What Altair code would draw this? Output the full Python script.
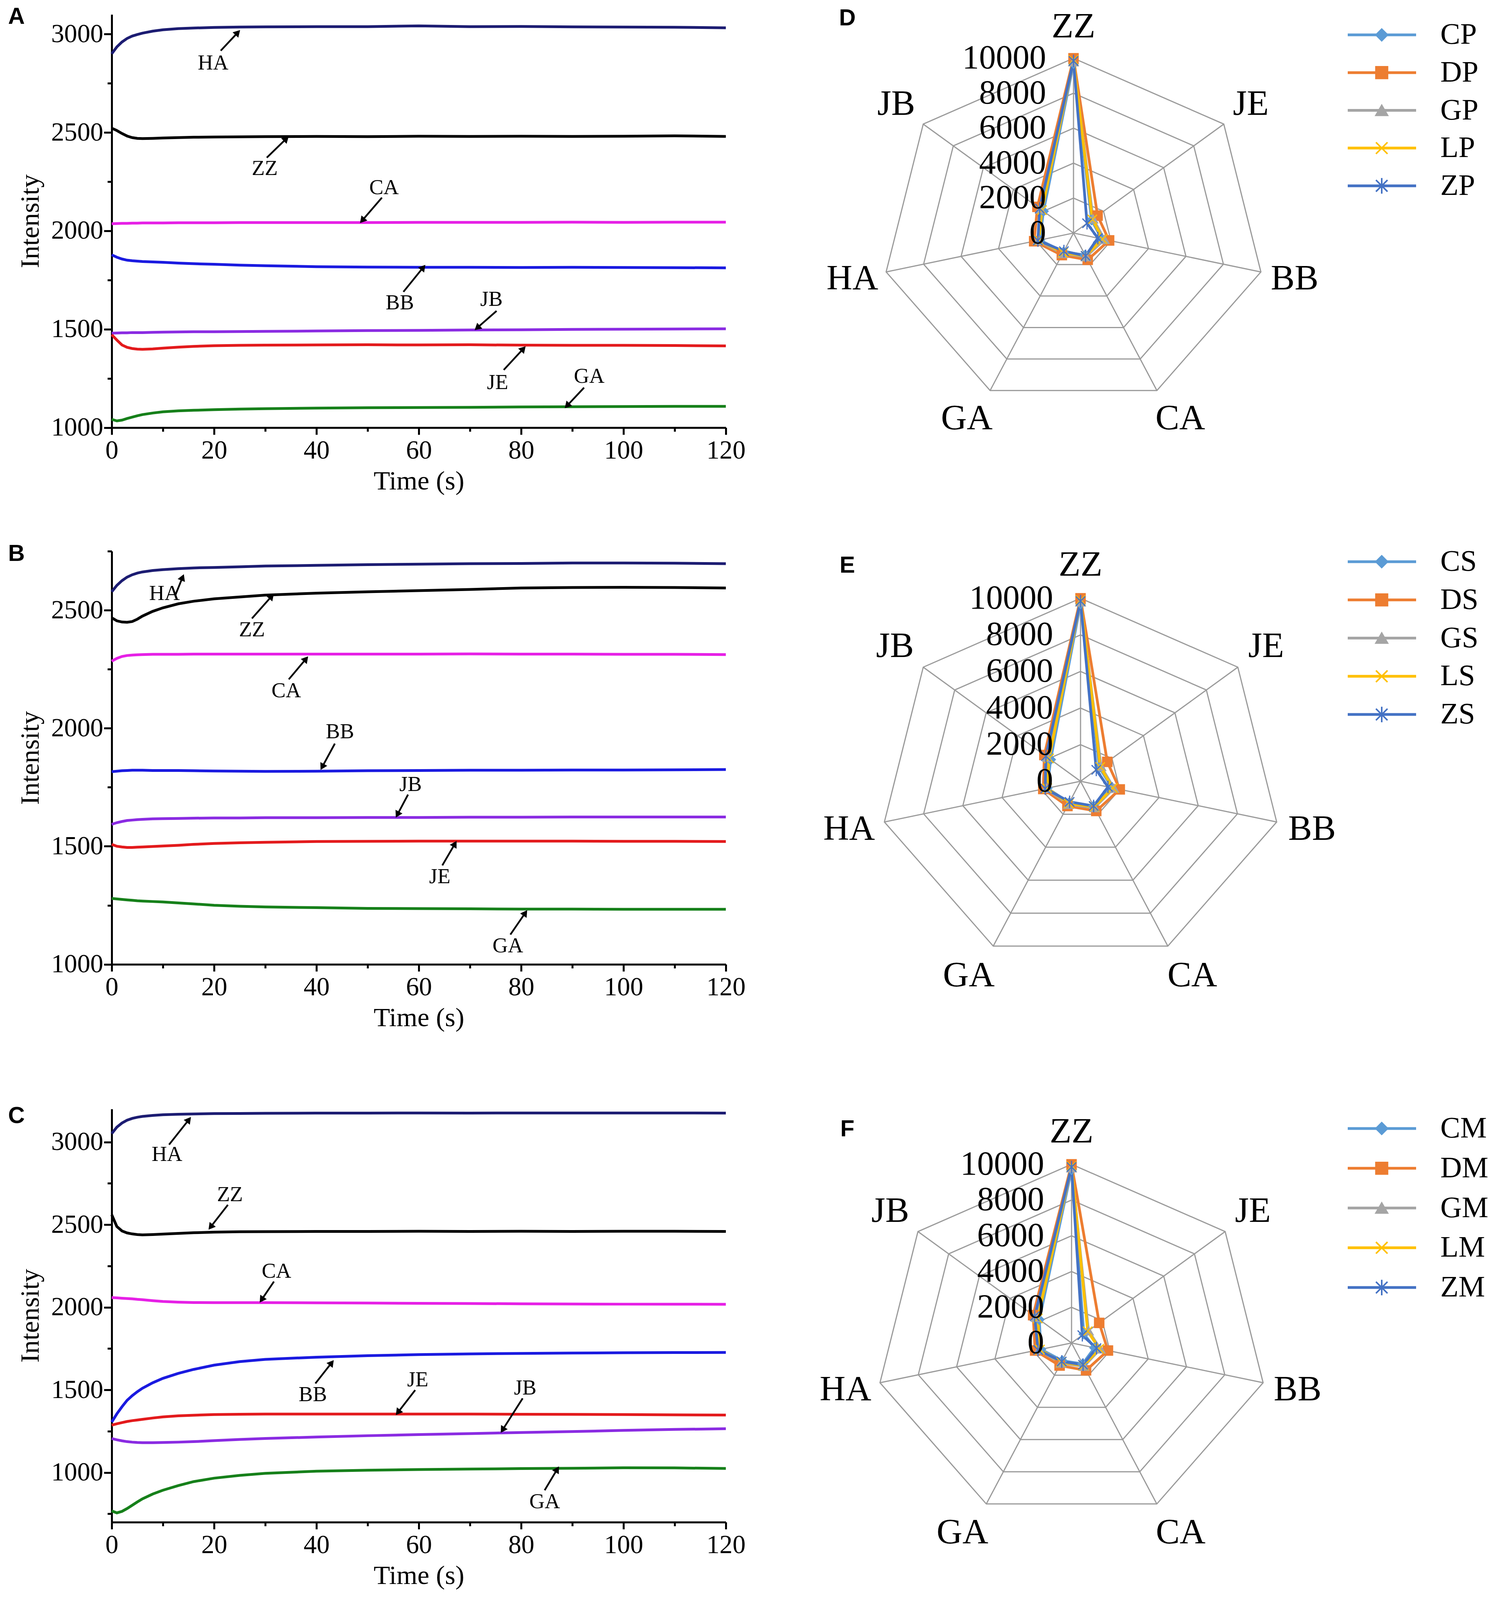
import math
import altair as alt
import pandas as pd

SERIF = "Liberation Serif"
SANS = "Liberation Sans"
SY = 0.9094          # vertical layout factor (visible page height / reference height)
SF = 0.954           # font / marker factor


def py(v):
    return v * SY


def pf(v):
    return v * SF


# ---------------- time-series panels (A, B, C) ----------------
T = [0, 1, 2, 3, 4, 5, 6, 8, 10, 13, 16, 20, 25, 30, 40, 50, 60, 70, 80, 90, 100, 110, 120]
GASES = ["HA", "ZZ", "CA", "BB", "JB", "JE", "GA"]
GAS_COLORS = ["#1c1c72", "#000000", "#e620e6", "#1a1ae0", "#8a2be2", "#e31a1c", "#16801a"]

A_HA = [2900, 2935, 2960, 2978, 2990, 2998, 3005, 3015, 3022, 3028, 3031, 3034, 3036, 3037, 3038, 3038, 3042, 3038, 3039, 3037, 3036, 3035, 3032]
A_ZZ = [2522, 2510, 2495, 2482, 2474, 2470, 2469, 2470, 2472, 2474, 2476, 2477, 2478, 2479, 2480, 2479, 2481, 2480, 2481, 2480, 2481, 2483, 2480]
A_CA = [2036, 2037, 2038, 2038, 2039, 2039, 2040, 2040, 2040, 2041, 2041, 2041, 2042, 2042, 2042, 2042, 2043, 2043, 2043, 2044, 2043, 2044, 2044]
A_BB = [1878, 1866, 1857, 1851, 1848, 1846, 1844, 1842, 1840, 1836, 1833, 1830, 1826, 1823, 1818, 1816, 1815, 1815, 1814, 1815, 1814, 1813, 1812]
A_JB = [1480, 1481, 1482, 1482, 1483, 1483, 1483, 1484, 1485, 1486, 1487, 1487, 1488, 1489, 1491, 1493, 1494, 1496, 1497, 1499, 1500, 1501, 1502]
A_JE = [1472, 1445, 1420, 1408, 1402, 1399, 1398, 1400, 1404, 1409, 1413, 1416, 1418, 1419, 1420, 1421, 1420, 1421, 1419, 1418, 1418, 1417, 1415]
A_GA = [1042, 1034, 1038, 1046, 1053, 1060, 1066, 1074, 1080, 1085, 1088, 1091, 1094, 1096, 1099, 1101, 1102, 1103, 1105, 1106, 1107, 1108, 1108]

B_HA = [2578, 2605, 2625, 2640, 2650, 2657, 2662, 2668, 2672, 2676, 2679, 2681, 2684, 2687, 2690, 2693, 2695, 2697, 2698, 2700, 2700, 2699, 2697]
B_ZZ = [2468, 2455, 2450, 2449, 2452, 2462, 2475, 2495, 2510, 2527, 2538, 2548, 2556, 2564, 2572, 2578, 2583, 2588, 2594, 2596, 2597, 2596, 2594]
B_CA = [2284, 2296, 2304, 2308, 2310, 2311, 2312, 2313, 2313, 2313, 2314, 2314, 2314, 2314, 2314, 2314, 2314, 2315, 2314, 2314, 2313, 2313, 2312]
B_BB = [1816, 1818, 1820, 1821, 1822, 1822, 1822, 1821, 1821, 1821, 1820, 1819, 1818, 1817, 1818, 1820, 1821, 1822, 1822, 1823, 1823, 1824, 1825]
B_JB = [1593, 1600, 1605, 1609, 1611, 1613, 1614, 1616, 1617, 1618, 1619, 1620, 1620, 1621, 1621, 1622, 1622, 1623, 1623, 1624, 1624, 1624, 1624]
B_JE = [1508, 1500, 1497, 1495, 1495, 1496, 1497, 1499, 1501, 1504, 1508, 1512, 1515, 1517, 1520, 1521, 1522, 1522, 1522, 1522, 1521, 1521, 1520]
B_GA = [1279, 1277, 1275, 1273, 1271, 1269, 1268, 1266, 1264, 1260, 1256, 1250, 1246, 1243, 1240, 1237, 1236, 1235, 1234, 1234, 1233, 1233, 1233]

C_HA = [3051, 3090, 3115, 3132, 3143, 3150, 3155, 3161, 3165, 3168, 3170, 3172, 3173, 3174, 3175, 3175, 3176, 3175, 3176, 3176, 3176, 3176, 3175]
C_ZZ = [2560, 2489, 2462, 2450, 2444, 2440, 2438, 2440, 2443, 2447, 2451, 2455, 2457, 2458, 2459, 2459, 2460, 2459, 2460, 2459, 2460, 2460, 2459]
C_CA = [2059, 2057, 2055, 2053, 2051, 2048, 2046, 2040, 2035, 2031, 2029, 2028, 2028, 2028, 2027, 2026, 2024, 2023, 2021, 2020, 2019, 2019, 2018]
C_BB = [1305, 1355, 1398, 1437, 1465, 1489, 1510, 1543, 1570, 1600, 1624, 1650, 1671, 1685, 1698, 1707, 1714, 1718, 1721, 1723, 1725, 1726, 1727]
C_JB = [1206, 1198, 1192, 1187, 1184, 1182, 1181, 1181, 1182, 1184, 1187, 1193, 1200, 1206, 1215, 1223, 1230, 1236, 1242, 1248, 1255, 1261, 1265]
C_JE = [1287, 1295, 1302, 1309, 1314, 1318, 1322, 1330, 1337, 1343, 1347, 1351, 1353, 1354, 1354, 1354, 1354, 1354, 1353, 1352, 1351, 1349, 1348]
C_GA = [768, 756, 765, 782, 802, 822, 841, 870, 893, 921, 945, 966, 983, 995, 1008, 1014, 1018, 1021, 1024, 1026, 1029, 1028, 1025]

# annotations: label, label position, arrow tail, arrow tip (data units)
A_ANN_LABEL = ["HA", "ZZ", "CA", "BB", "JB", "JE", "GA"]
A_ANN_LX = [19.8, 29.9, 53.2, 56.3, 74.2, 75.4, 93.3]
A_ANN_LY = [2851, 2315, 2218, 1633, 1650, 1228, 1260]
A_ANN_X0 = [21.3, 30.3, 52.8, 57.0, 75.2, 76.6, 92.3]
A_ANN_Y0 = [2916, 2372, 2169, 1690, 1593, 1293, 1203]
A_ANN_X1 = [25.1, 34.6, 48.5, 61.3, 70.9, 80.9, 88.5]
A_ANN_Y1 = [3021, 2481, 2039, 1828, 1495, 1414, 1098]

B_ANN_LABEL = ["HA", "ZZ", "CA", "BB", "JB", "JE", "GA"]
B_ANN_LX = [10.3, 27.4, 34.1, 44.6, 58.4, 64.1, 77.4]
B_ANN_LY = [2570, 2416, 2158, 1984, 1760, 1370, 1077]
B_ANN_X0 = [12.4, 27.4, 34.6, 43.6, 57.9, 64.6, 77.9]
B_ANN_Y0 = [2562, 2465, 2207, 1935, 1719, 1419, 1126]
B_ANN_X1 = [14.1, 31.7, 38.4, 40.8, 55.5, 67.4, 81.2]
B_ANN_Y1 = [2653, 2570, 2305, 1823, 1621, 1523, 1230]

C_ANN_LABEL = ["HA", "ZZ", "CA", "BB", "JE", "JB", "GA"]
C_ANN_LX = [10.8, 23.1, 32.2, 39.3, 59.8, 80.8, 84.6]
C_ANN_LY = [2923, 2681, 2216, 1469, 1560, 1509, 822]
C_ANN_X0 = [11.2, 22.7, 31.7, 39.8, 59.3, 80.3, 84.6]
C_ANN_Y0 = [2984, 2620, 2156, 1539, 1499, 1449, 893]
C_ANN_X1 = [15.5, 18.9, 28.9, 43.4, 55.5, 76.0, 87.4]
C_ANN_Y1 = [3152, 2469, 2028, 1681, 1347, 1240, 1038]

# ---------------- radar panels (D, E, F) ----------------
SENSORS = ["ZZ", "JE", "BB", "CA", "GA", "HA", "JB"]
RINGS = [0, 2000, 4000, 6000, 8000, 10000]
RADAR_COLORS = ["#5B9BD5", "#ED7D31", "#A5A5A5", "#FFC000", "#4472C4"]

D_NAMES = ["CP", "DP", "GP", "LP", "ZP"]
D_VALUES = [
    [9700, 1200, 1500, 1400, 1200, 1800, 2000],
    [10000, 1600, 1900, 1700, 1400, 2100, 2400],
    [9800, 1300, 1650, 1500, 1300, 1900, 2200],
    [9900, 1250, 1550, 1450, 1250, 1850, 2100],
    [9850, 900, 1300, 1450, 1150, 1900, 2250],
]
E_NAMES = ["CS", "DS", "GS", "LS", "ZS"]
E_VALUES = [
    [9700, 1200, 1600, 1500, 1300, 1700, 1900],
    [10000, 1700, 2000, 1800, 1500, 1900, 2300],
    [9800, 1300, 1700, 1600, 1400, 1750, 2100],
    [9900, 1250, 1650, 1550, 1350, 1700, 2000],
    [9850, 1000, 1400, 1500, 1250, 1800, 2200],
]
F_NAMES = ["CM", "DM", "GM", "LM", "ZM"]
F_VALUES = [
    [9700, 800, 1200, 1300, 1100, 1600, 2100],
    [10000, 1800, 1900, 1700, 1400, 1900, 2500],
    [9800, 1100, 1500, 1450, 1250, 1700, 2300],
    [9900, 1050, 1450, 1400, 1200, 1650, 2200],
    [9850, 700, 1300, 1350, 1150, 1750, 2400],
]

SHAPES = ["diamond", "square", "triangle-up",
          "M-1,-1L1,1M-1,1L1,-1",
          "M-1,-1L1,1M-1,1L1,-1M0,-1.35L0,1.35"]
SERIES_WIDTHS = [7, 7, 7, 7, 12]

W_LINE = 1572
H_LINE = py(1163)
INDEP = dict(color="independent", stroke="independent", shape="independent",
             strokeWidth="independent", x="independent", y="independent")


def line_panel(letter, letter_dy, series, ydom, ytick_start, ann):
    rows = []
    for g, vals in zip(GASES, series):
        for t, v in zip(T, vals):
            rows.append({"gas": g, "t": t, "v": v})
    df = pd.DataFrame(rows)

    labels, lx, ly, x0, y0, x1, y1 = ann
    sx = W_LINE / 120.0
    sy = H_LINE / float(ydom[1] - ydom[0])
    arows = []
    for i in range(len(labels)):
        dxp = (x1[i] - x0[i]) * sx
        dyp = (y1[i] - y0[i]) * sy
        L = math.hypot(dxp, dyp)
        ang = math.degrees(math.atan2(dxp, dyp)) % 360
        back = 9.0
        hx = x1[i] - dxp / L * back / sx
        hy = y1[i] - dyp / L * back / sy
        arows.append({"label": labels[i], "lx": lx[i], "ly": ly[i], "x0": x0[i], "y0": y0[i],
                      "hx": hx, "hy": hy, "ang": ang})
    adf = pd.DataFrame(arows)

    xs = alt.Scale(domain=[0, 120], nice=False, zero=False)
    ys = alt.Scale(domain=ydom, nice=False, zero=False)
    xaxis = alt.Axis(values=list(range(0, 121, 10)),
                     labelExpr="datum.value % 20 === 0 ? datum.label : ''",
                     tickSize={"condition": {"test": "datum.value % 20 === 0", "value": 18}, "value": 10},
                     labelPadding=8, titlePadding=11, labelFlush=False, labelOverlap=False)
    yaxis = alt.Axis(values=list(range(ytick_start, ydom[1] + 1, 250)), format="d",
                     labelExpr="datum.value % 500 === 0 ? datum.label : ''",
                     tickSize={"condition": {"test": "datum.value % 500 === 0", "value": 20}, "value": 11},
                     labelPadding=2, titlePadding=18, labelFlush=False, labelOverlap=False)
    X = lambda f: alt.X(f, type="quantitative", scale=xs, axis=xaxis, title="Time (s)")
    Y = lambda f: alt.Y(f, type="quantitative", scale=ys, axis=yaxis, title="Intensity")

    lines = alt.Chart(df).mark_line(strokeWidth=7).encode(
        x=X("t"), y=Y("v"),
        color=alt.Color("gas:N", scale=alt.Scale(domain=GASES, range=GAS_COLORS), legend=None),
    )
    rules = alt.Chart(adf).mark_rule(strokeWidth=4.5, color="black").encode(
        x=X("x0"), y=Y("y0"), x2="hx:Q", y2="hy:Q")
    heads = alt.Chart(adf).mark_point(shape="triangle-up", filled=True, size=400,
                                      color="black", opacity=1).encode(
        x=X("hx"), y=Y("hy"), angle=alt.Angle("ang:Q", scale=None))
    texts = alt.Chart(adf).mark_text(font=SERIF, fontSize=pf(57), color="black",
                                     align="center", baseline="middle").encode(
        x=X("lx"), y=Y("ly"), text="label:N")
    let = alt.Chart(pd.DataFrame({"panel": [letter]})).mark_text(
        font=SANS, fontWeight="bold", fontSize=pf(62), color="black", align="center", baseline="middle"
    ).encode(x=alt.value(-244), y=alt.value(letter_dy), text="panel:N")
    return alt.layer(lines, rules, heads, texts, let).properties(width=W_LINE, height=H_LINE)


def radar_panel(letter, letter_xy, names, values, xdom, ydom, W, H):
    n = len(SENSORS)
    rmax = float(RINGS[-1])
    rows = []
    for s, vals in zip(names, values):
        for i in range(n + 1):
            rows.append({"series": s, "sensor": SENSORS[i % n], "idx": i, "value": vals[i % n]})
    pts = pd.DataFrame(rows)
    xs = alt.Scale(domain=xdom, nice=False, zero=False)
    ys = alt.Scale(domain=ydom, nice=False, zero=False)
    X = lambda f: alt.X(f, type="quantitative", scale=xs, axis=None)
    Y = lambda f: alt.Y(f, type="quantitative", scale=ys, axis=None)
    th = "datum.idx*2*PI/%d" % n

    ring_df = pd.DataFrame([{"ring": r, "idx": i} for r in RINGS[1:] for i in range(n + 1)])
    rings = alt.Chart(ring_df).transform_calculate(
        px="datum.ring/%f*sin(%s)" % (rmax, th), py="datum.ring/%f*cos(%s)" % (rmax, th)
    ).mark_line(color="#9a9a9a", strokeWidth=3).encode(
        x=X("px"), y=Y("py"), detail="ring:N", order="idx:Q")

    spoke_df = pd.DataFrame({"idx": list(range(n)), "ring": [RINGS[-1]] * n})
    spokes = alt.Chart(spoke_df).transform_calculate(
        px="datum.ring/%f*sin(%s)" % (rmax, th), py="datum.ring/%f*cos(%s)" % (rmax, th),
        cx="0", cy="0"
    ).mark_rule(color="#9a9a9a", strokeWidth=3).encode(
        x=X("cx"), y=Y("cy"), x2="px:Q", y2="py:Q")

    cat_df = pd.DataFrame({"sensor": SENSORS, "idx": list(range(n))})
    cats = alt.Chart(cat_df).transform_calculate(
        px="1.18*sin(%s) + (cos(%s) < -0.5 ? 0.1*sin(%s) : 0)" % (th, th, th),
        py="1.18*cos(%s)" % th
    ).mark_text(font=SERIF, fontSize=pf(96), color="black", align="center", baseline="middle").encode(
        x=X("px"), y=Y("py"), text="sensor:N")

    rl_df = pd.DataFrame({"ring": RINGS, "txt": [str(r) for r in RINGS]})
    rlabels = alt.Chart(rl_df).transform_calculate(
        px="0", py="datum.ring/%f" % rmax
    ).mark_text(font=SERIF, fontSize=pf(90), color="black", align="right", baseline="middle",
                dx=-70).encode(x=X("px"), y=Y("py"), text="txt:N")

    col = alt.Color("series:N", scale=alt.Scale(domain=names, range=RADAR_COLORS), legend=None)
    stk = alt.Stroke("series:N", scale=alt.Scale(domain=names, range=RADAR_COLORS), legend=None)
    base = alt.Chart(pts).transform_calculate(
        px="datum.value/%f*sin(%s)" % (rmax, th), py="datum.value/%f*cos(%s)" % (rmax, th))
    slines = base.mark_line().encode(
        x=X("px"), y=Y("py"), color=col, order="idx:Q",
        strokeWidth=alt.StrokeWidth("series:N", scale=alt.Scale(domain=names, range=SERIES_WIDTHS),
                                    legend=None))
    spoints = base.transform_filter("datum.idx < %d" % n).mark_point(
        filled=True, size=pf(25) ** 2, strokeWidth=3, opacity=1).encode(
        x=X("px"), y=Y("py"), color=col, stroke=stk,
        shape=alt.Shape("series:N", scale=alt.Scale(domain=names, range=SHAPES), legend=None))

    let = alt.Chart(pd.DataFrame({"panel": [letter]})).mark_text(
        font=SANS, fontWeight="bold", fontSize=pf(62), color="black", align="center", baseline="middle"
    ).encode(x=alt.value(letter_xy[0]), y=alt.value(letter_xy[1]), text="panel:N")

    return alt.layer(rings, spokes, slines, spoints, cats, rlabels, let).properties(
        width=W, height=H)


def legend_panel(names, yrange, H):
    df = pd.DataFrame({"series": names})
    y = alt.Y("series:N", scale=alt.Scale(type="point", domain=names, range=yrange), axis=None)
    col = alt.Color("series:N", scale=alt.Scale(domain=names, range=RADAR_COLORS), legend=None)
    stk = alt.Stroke("series:N", scale=alt.Scale(domain=names, range=RADAR_COLORS), legend=None)
    line = alt.Chart(df).mark_rule(strokeWidth=7).encode(
        y=y, x=alt.value(25), x2=alt.value(200), color=col)
    pt = alt.Chart(df).mark_point(filled=True, size=pf(31) ** 2, strokeWidth=4, opacity=1).encode(
        y=y, x=alt.value(112), color=col, stroke=stk,
        shape=alt.Shape("series:N", scale=alt.Scale(domain=names, range=SHAPES), legend=None))
    txt = alt.Chart(df).mark_text(font=SERIF, fontSize=pf(80), color="black", align="left",
                                  baseline="middle").encode(y=y, x=alt.value(262), text="series:N")
    return alt.layer(line, pt, txt).properties(width=400, height=H)


pA = line_panel("A", 6, [A_HA, A_ZZ, A_CA, A_BB, A_JB, A_JE, A_GA], [1000, 3100], 1000,
                (A_ANN_LABEL, A_ANN_LX, A_ANN_LY, A_ANN_X0, A_ANN_Y0, A_ANN_X1, A_ANN_Y1))
pB = line_panel("B", 7, [B_HA, B_ZZ, B_CA, B_BB, B_JB, B_JE, B_GA], [1000, 2750], 1000,
                (B_ANN_LABEL, B_ANN_LX, B_ANN_LY, B_ANN_X0, B_ANN_Y0, B_ANN_X1, B_ANN_Y1))
pC = line_panel("C", 18, [C_HA, C_ZZ, C_CA, C_BB, C_JB, C_JE, C_GA], [700, 3200], 750,
                (C_ANN_LABEL, C_ANN_LX, C_ANN_LY, C_ANN_X0, C_ANN_Y0, C_ANN_X1, C_ANN_Y1))

pD = radar_panel("D", (124, 10), D_NAMES, D_VALUES, [-1.4289, 1.3760], [-1.7979, 1.2508], 1380, 1364)
pE = radar_panel("E", (124, 22), E_NAMES, E_VALUES, [-1.4000, 1.2796], [-1.7442, 1.2255], 1380, 1391)
pF = radar_panel("F", (124, 74), F_NAMES, F_VALUES, [-1.3877, 1.3559], [-1.4735, 1.3577], 1380, 1295)

lD = legend_panel(D_NAMES, [4, 487], 1300)
lE = legend_panel(E_NAMES, [52, 541], 1403)
lF = legend_panel(F_NAMES, [98, 607], 1340)

left = alt.vconcat(
    alt.vconcat(pA, pB, spacing=111).resolve_scale(**INDEP), pC, spacing=187
).resolve_scale(**INDEP)
mid = alt.vconcat(pD, pE, pF, spacing=0).resolve_scale(**INDEP)
leg = alt.vconcat(lD, lE, lF, spacing=0).resolve_scale(**INDEP)
right = alt.hconcat(mid, leg, spacing=0).resolve_scale(**INDEP)

chart = alt.hconcat(left, right, spacing=136).resolve_scale(**INDEP).properties(
    padding={"left": 12, "top": 6, "right": 4, "bottom": 4}, background="white"
).configure_view(strokeWidth=0).configure_axis(
    labelFont=SERIF, titleFont=SERIF, labelFontSize=pf(70), titleFontSize=pf(72),
    titleFontWeight="normal", labelColor="black", titleColor="black",
    domainColor="black", tickColor="black", domainWidth=5, tickWidth=5, grid=False
)

chart.save("out.html", embed_options={"renderer": "svg", "actions": False})
